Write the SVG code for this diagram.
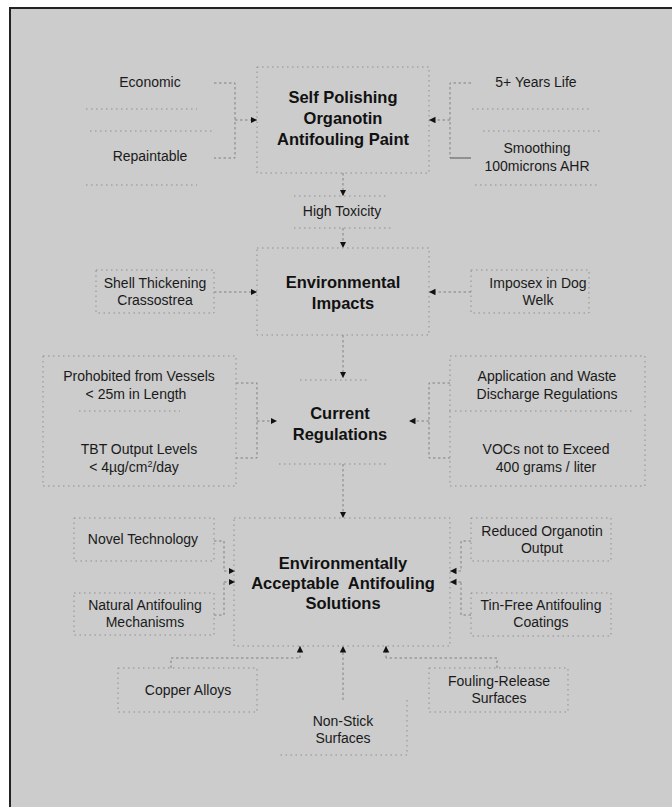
<svg xmlns="http://www.w3.org/2000/svg" width="672" height="807" viewBox="0 0 672 807">
<defs>
<style>
.t{font-family:"Liberation Sans",Arial,sans-serif;font-size:14px;fill:#1a1a1a;text-anchor:middle}
.b{font-family:"Liberation Sans",Arial,sans-serif;font-size:16.5px;font-weight:bold;fill:#111;text-anchor:middle}
.d{fill:none;stroke:#8e8e8e;stroke-width:1;stroke-dasharray:1.5 3.5}
.c{fill:none;stroke:#808080;stroke-width:1;stroke-dasharray:2.5 2.5}
.a{fill:none;stroke:#808080;stroke-width:1;stroke-dasharray:2.5 2.5;marker-end:url(#ah)}
</style>
<marker id="ah" markerUnits="userSpaceOnUse" markerWidth="8" markerHeight="8" refX="6.5" refY="3.25" orient="auto">
<path d="M0,0 L6.5,3.25 L0,6.5 Z" fill="#111"/>
</marker>
</defs>
<rect x="0" y="0" width="672" height="807" fill="#fff"/>
<rect x="10" y="8" width="700" height="830" fill="#cccccc" stroke="#222" stroke-width="2"/>

<g id="connectors">
<path class="c" d="M214,83 H235 V158 H214"/>
<path class="a" d="M235,120 H257"/>
<path class="c" d="M471,83 H450 V158"/>
<path d="M450,158 H471" stroke="#555" stroke-width="1" fill="none"/>
<path class="a" d="M450,120 H429"/>
<path class="a" d="M343,173 V196"/>
<path class="a" d="M343,228 V248"/>
<path class="a" d="M214,292 H257"/>
<path class="a" d="M471,292 H429"/>
<path class="a" d="M343,335 V378"/>
<path class="c" d="M236,383 H257 V458 H236"/>
<path class="a" d="M257,421 H277"/>
<path class="c" d="M450,383 H429 V458 H450"/>
<path class="a" d="M429,421 H409"/>
<path class="a" d="M343,464 V518"/>
<path class="c" d="M214,541 H224 V571"/>
<path class="a" d="M224,571 H235"/>
<path class="c" d="M214,615 H224 V582"/>
<path class="a" d="M224,582 H235"/>
<path class="c" d="M471,541 H461 V571"/>
<path class="a" d="M461,571 H450"/>
<path class="c" d="M471,615 H461 V582"/>
<path class="a" d="M461,582 H450"/>
<path class="c" d="M171,668 V658 H300"/>
<path class="a" d="M300,658 V646"/>
<path class="a" d="M343,700 V646"/>
<path class="c" d="M497,668 V658 H386"/>
<path class="a" d="M386,658 V646"/>
</g>

<g id="n-paint">
<rect class="d" x="257" y="67" width="172" height="106"/>
<text class="b" x="343" y="103">Self Polishing</text>
<text class="b" x="343" y="124">Organotin</text>
<text class="b" x="343" y="145">Antifouling Paint</text>
</g>
<g id="n-economic">
<path class="d" d="M86,109 H197"/>
<text class="t" x="150" y="87">Economic</text>
</g>
<g id="n-repaintable">
<path class="d" d="M90,131 H213 M86,185 H197"/>
<text class="t" x="150" y="161">Repaintable</text>
</g>
<g id="n-life">
<path class="d" d="M472,109 H590"/>
<text class="t" x="536" y="87">5+ Years Life</text>
</g>
<g id="n-smoothing">
<path class="d" d="M483,131 H602 M475,185 H600"/>
<text class="t" x="537" y="153">Smoothing</text>
<text class="t" x="537" y="171">100microns AHR</text>
</g>
<g id="n-toxicity">
<path class="d" d="M294,196 H388 M294,228 H392"/>
<text class="t" x="342" y="216">High Toxicity</text>
</g>
<g id="n-impacts">
<rect class="d" x="257" y="248" width="172" height="87"/>
<text class="b" x="343" y="288">Environmental</text>
<text class="b" x="343" y="309">Impacts</text>
</g>
<g id="n-shell">
<rect class="d" x="96" y="270" width="118" height="43"/>
<text class="t" x="155" y="288">Shell Thickening</text>
<text class="t" x="155" y="305">Crassostrea</text>
</g>
<g id="n-imposex">
<rect class="d" x="471" y="270" width="118" height="43"/>
<text class="t" x="538" y="288">Imposex in Dog</text>
<text class="t" x="538" y="305">Welk</text>
</g>
<g id="n-regulations">
<path class="d" d="M300,380 H369 M279,464 H388"/>
<text class="b" x="340" y="419">Current</text>
<text class="b" x="340" y="440">Regulations</text>
</g>
<g id="n-prohibited">
<path class="d" d="M43,356 H236 V411 M79,411 H180 M43,356 V411"/>
<text class="t" x="139" y="381">Prohobited from Vessels</text>
<text class="t" x="136" y="399">&lt; 25m in Length</text>
</g>
<g id="n-tbt">
<path class="d" d="M43,411 V486 H236 V411"/>
<text class="t" x="139" y="454">TBT Output Levels</text>
<text class="t" x="134" y="472">&lt; 4µg/cm<tspan font-size="9" dy="-5">2</tspan><tspan dy="5">/day</tspan></text>
</g>
<g id="n-application">
<path class="d" d="M450,411 V356 H645 V411 M455,411 H634"/>
<text class="t" x="547" y="381">Application and Waste</text>
<text class="t" x="547" y="399">Discharge Regulations</text>
</g>
<g id="n-vocs">
<path class="d" d="M450,411 V486 H645 V411"/>
<text class="t" x="546" y="454">VOCs not to Exceed</text>
<text class="t" x="546" y="472">400 grams / liter</text>
</g>
<g id="n-solutions">
<rect class="d" x="234" y="518" width="216" height="128"/>
<text class="b" x="343" y="569">Environmentally</text>
<text class="b" x="343" y="589" xml:space="preserve">Acceptable  Antifouling</text>
<text class="b" x="343" y="609">Solutions</text>
</g>
<g id="n-novel">
<rect class="d" x="74" y="518" width="140" height="43"/>
<text class="t" x="143" y="544">Novel Technology</text>
</g>
<g id="n-natural">
<rect class="d" x="74" y="593" width="140" height="42"/>
<text class="t" x="145" y="610">Natural Antifouling</text>
<text class="t" x="145" y="627">Mechanisms</text>
</g>
<g id="n-reduced">
<rect class="d" x="471" y="518" width="140" height="43"/>
<text class="t" x="542" y="536">Reduced Organotin</text>
<text class="t" x="542" y="553">Output</text>
</g>
<g id="n-tinfree">
<rect class="d" x="471" y="593" width="140" height="43"/>
<text class="t" x="541" y="610">Tin-Free Antifouling</text>
<text class="t" x="541" y="627">Coatings</text>
</g>
<g id="n-copper">
<rect class="d" x="118" y="668" width="139" height="44"/>
<text class="t" x="188" y="695">Copper Alloys</text>
</g>
<g id="n-nonstick">
<path class="d" d="M407,700 V755 H279"/>
<text class="t" x="343" y="726">Non-Stick</text>
<text class="t" x="343" y="743">Surfaces</text>
</g>
<g id="n-fouling">
<rect class="d" x="429" y="668" width="139" height="44"/>
<text class="t" x="499" y="686">Fouling-Release</text>
<text class="t" x="499" y="703">Surfaces</text>
</g>
</svg>
